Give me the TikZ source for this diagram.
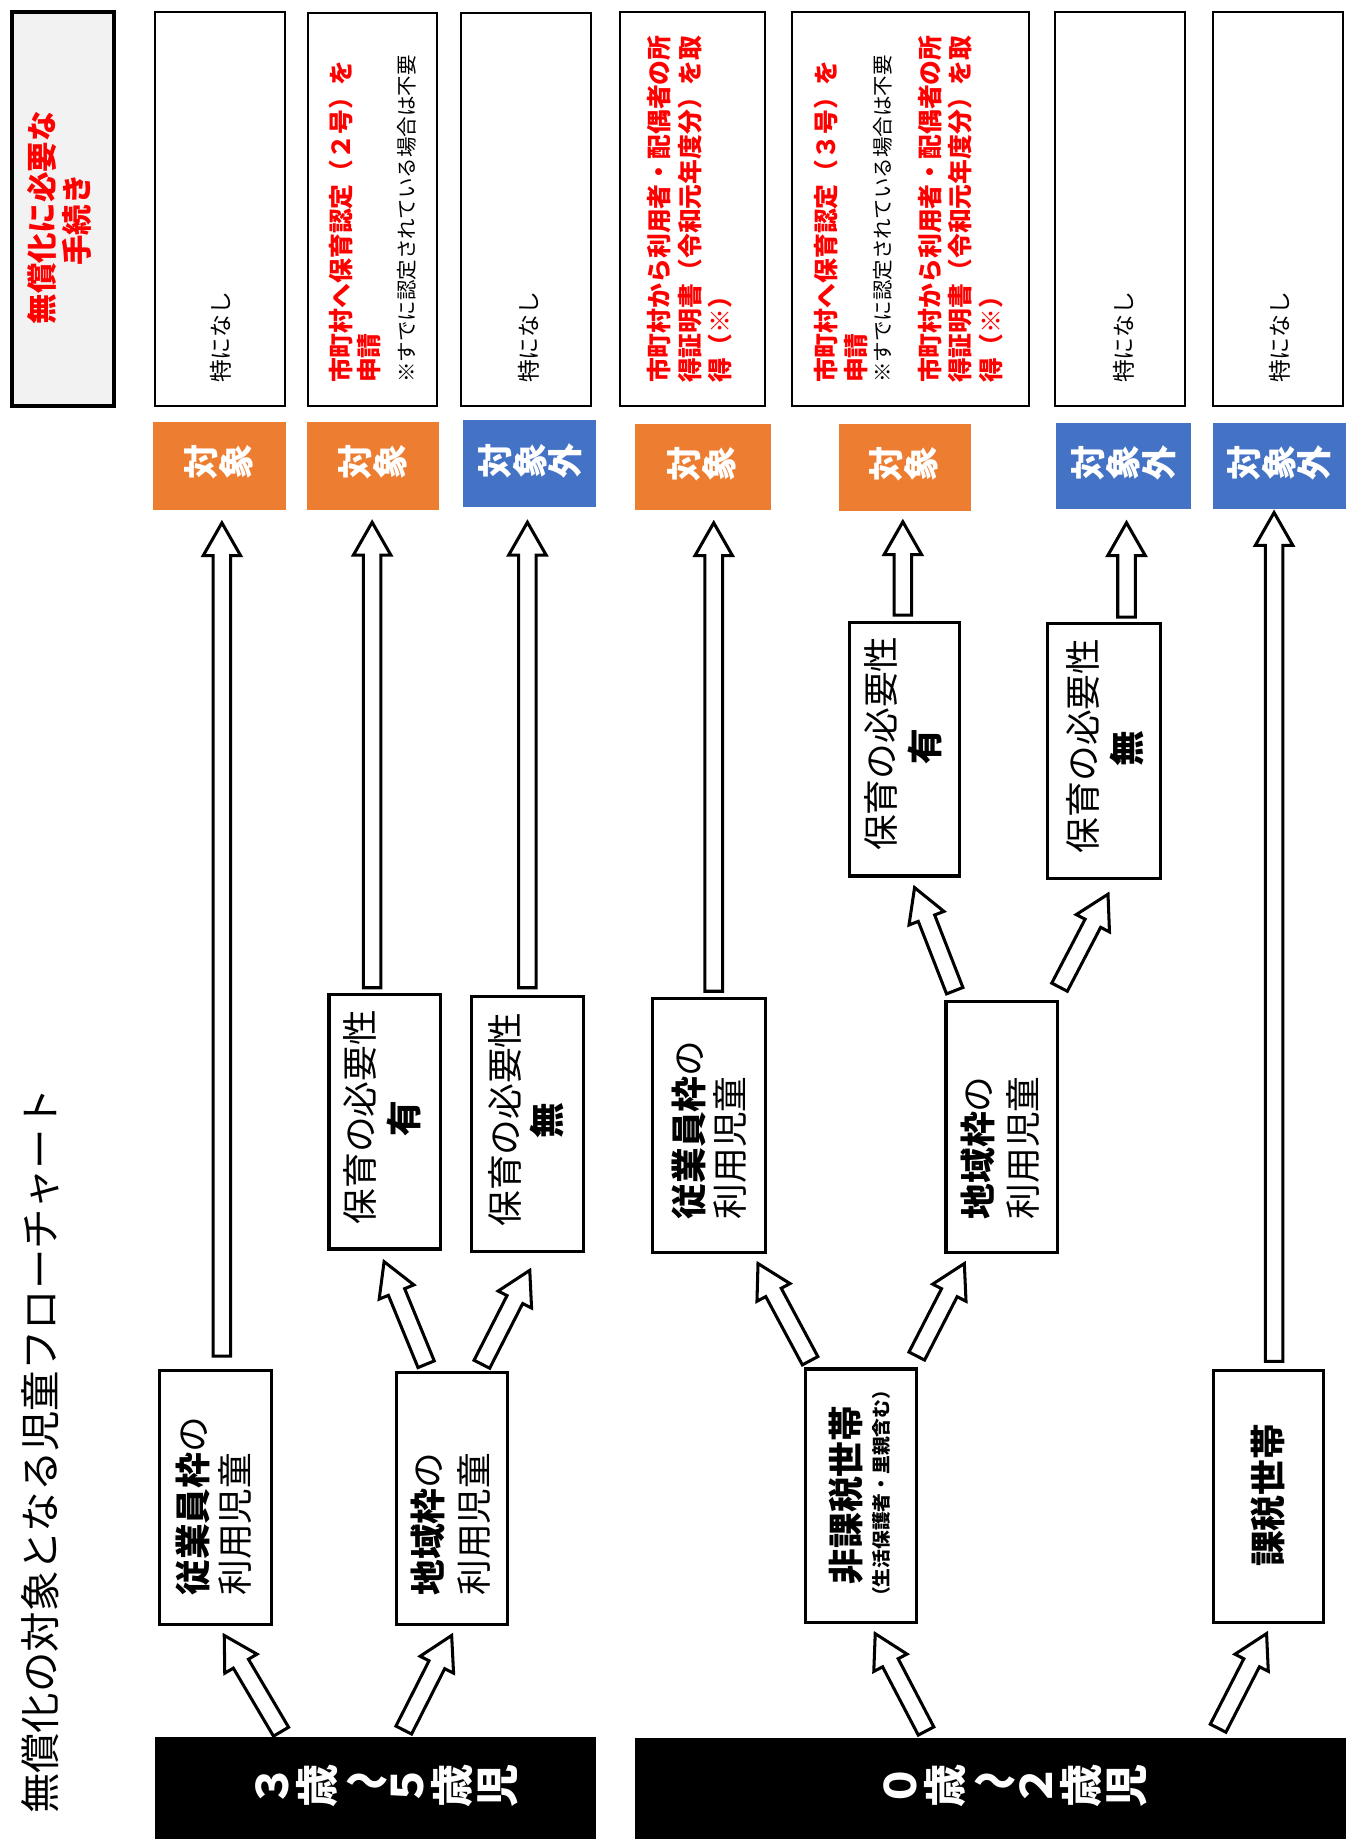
\documentclass[tikz,border=0pt]{standalone}
\usepackage{fontspec}
\usepackage{graphicx}
\usetikzlibrary{calc}
\newfontfamily\jp{Noto Sans CJK JP}
\definecolor{corange}{HTML}{ED7D31}
\definecolor{cblue}{HTML}{4472C4}
\definecolor{cred}{HTML}{FF0000}
\definecolor{cgrey}{HTML}{F2F2F2}
\newcommand\jfs[1]{\fontsize{#1}{#1}\selectfont}
\tikzset{
  vtl/.style={rotate=90, anchor=west, inner sep=0pt, outer sep=0pt},
  vtc/.style={rotate=90, anchor=center, inner sep=0pt, outer sep=0pt},
  stk/.style={rotate=90, anchor=center, inner sep=0pt, outer sep=0pt, align=center},
  topbox/.style={draw, line width=1.8pt, fill=white},
  midbox/.style={draw, line width=2.7pt, fill=white},
  titlebox/.style={draw, line width=3.5pt, fill=cgrey},
  orangebox/.style={fill=corange},
  bluebox/.style={fill=cblue},
  blackbox/.style={fill=black},
  arrowbody/.style={draw, fill=white, line width=2.6pt, line join=miter},
  redtxt/.style={text=cred, font=\jp\bfseries\jfs{21.2}},
  notetxt/.style={font=\jp\jfs{17.5}},
  plaintxt/.style={font=\jp\jfs{19.5}},
  lbltxt/.style={text=white, font=\jp\bfseries\jfs{30}},
  midtxt/.style={font=\jp\jfs{30.5}},
  midbold/.style={font=\jp\bfseries\jfs{30.5}},
  bigtxt/.style={text=white, font=\jp\bfseries\fontsize{37}{38.5}\selectfont},
}
% box node: style, name, x1, y1, x2, y2
\newcommand\boxnode[6]{%
  \node[#1, inner sep=0pt, outer sep=0pt, minimum width={#5-#3}, minimum height={#6-#4}]
    (#2) at ({(#3+#5)/2},{(#4+#6)/2}) {};}
% block arrow from tail coordinate #1 to tip coordinate #2
\newcommand\barrow[2]{%
  \coordinate (#1-n) at ($(#2)!28pt!(#1)$);
  \draw[arrowbody] ($(#1)!7.5pt!90:(#2)$) -- ($(#1-n)!7.5pt!90:(#2)$) -- ($(#1-n)!16pt!90:(#2)$)
    -- (#2) -- ($(#1-n)!16pt!-90:(#2)$) -- ($(#1-n)!7.5pt!-90:(#2)$) -- ($(#1)!7.5pt!-90:(#2)$) -- cycle;}
\begin{document}
\begin{tikzpicture}[x=1pt,y=-1pt]
\useasboundingbox (0,0) rectangle (1150.3,1573);
\fill[white] (0,0) rectangle (1150.3,1573);

% ---------- top row boxes ----------
\boxnode{titlebox}{title}{10}{10}{97}{347}
\boxnode{topbox}{a1}{132.6}{10}{243}{347}
\boxnode{topbox}{a2}{263}{11.4}{373}{347}
\boxnode{topbox}{a3}{394}{11.4}{505}{347}
\boxnode{topbox}{b1}{529.5}{10}{653}{347}
\boxnode{topbox}{b2}{676}{10}{879}{347}
\boxnode{topbox}{b3}{901}{10}{1012}{347}
\boxnode{topbox}{b4}{1036}{10}{1147}{347}

\node[vtc, text=cred, font=\jp\bfseries\jfs{26}] (title1) at (36,186) {無償化に必要な};
\node[vtc, text=cred, font=\jp\bfseries\jfs{26}] (title2) at (65.8,188) {手続き};

\node[vtl, plaintxt] (a1t) at (188.5,327) {特になし};
\node[vtl, redtxt] (a2t1) at (291.5,327) {市町村へ保育認定（２号）を};
\node[vtl, redtxt] (a2t2) at (315.5,327) {申請};
\node[vtl, notetxt] (a2t3) at (347.5,327) {※すでに認定されている場合は不要};
\node[vtl, plaintxt] (a3t) at (451.5,327) {特になし};

\node[vtl, redtxt] (b1t1) at (563,327) {市町村から利用者・配偶者の所};
\node[vtl, redtxt] (b1t2) at (589,327) {得証明書（令和元年度分）を取};
\node[vtl, redtxt] (b1t3) at (614.5,327) {得（※）};

\node[vtl, redtxt] (b2t1) at (705,327) {市町村へ保育認定（３号）を};
\node[vtl, redtxt] (b2t2) at (731,327) {申請};
\node[vtl, notetxt] (b2t3) at (754,327) {※すでに認定されている場合は不要};
\node[vtl, redtxt] (b2t4) at (794,327) {市町村から利用者・配偶者の所};
\node[vtl, redtxt] (b2t5) at (820,327) {得証明書（令和元年度分）を取};
\node[vtl, redtxt] (b2t6) at (846,327) {得（※）};

\node[vtl, plaintxt] (b3t) at (960,327) {特になし};
\node[vtl, plaintxt] (b4t) at (1092.7,327) {特になし};

% ---------- labels ----------
\boxnode{orangebox}{l1}{131}{360}{244}{435.6}
\boxnode{orangebox}{l2}{262}{360}{375}{435.6}
\boxnode{bluebox}{l3}{395}{359}{509}{433}
\boxnode{orangebox}{l4}{542}{362}{658}{435.6}
\boxnode{orangebox}{l5}{716.5}{362}{829}{436}
\boxnode{bluebox}{l6}{902}{361}{1017}{435}
\boxnode{bluebox}{l7}{1036}{361}{1149}{435}

\node[stk, lbltxt] (l1t) at (187,394.5) {対\\象};
\node[stk, lbltxt] (l2t) at (318,394.5) {対\\象};
\node[stk, lbltxt] (l3t) at (453,393.5) {対\\象\\外};
\node[stk, lbltxt] (l4t) at (599,396) {対\\象};
\node[stk, lbltxt] (l5t) at (772,396) {対\\象};
\node[stk, lbltxt] (l6t) at (959.5,395) {対\\象\\外};
\node[stk, lbltxt] (l7t) at (1092.5,395) {対\\象\\外};

% ---------- middle boxes ----------
\boxnode{midbox}{m1}{281}{849.6}{376.4}{1066.6}
\boxnode{midbox}{m2}{402.7}{851}{498}{1068.8}
\boxnode{midbox}{m3}{557}{853}{653.4}{1069.7}
\boxnode{midbox}{m4}{807.8}{855}{902.8}{1069.7}
\boxnode{midbox}{m5}{725.5}{531.6}{819.3}{748}
\boxnode{midbox}{m6}{894.5}{532.5}{990.7}{750}

\node[vtc, midtxt] (m1t1) at (307.5,954) {保育の必要性};
\node[vtc, midbold] (m1t2) at (345,955) {有};
\node[vtc, midtxt] (m2t1) at (431.5,956) {保育の必要性};
\node[vtc, midbold] (m2t2) at (467,957) {無};
\node[vtl, midtxt] (m3t1) at (588,1041.3) {{\bfseries 従業員枠}の};
\node[vtl, midtxt] (m3t2) at (623.5,1041.3) {利用児童};
\node[vtl, midtxt] (m4t1) at (835,1041.3) {{\bfseries 地域枠}の};
\node[vtl, midtxt] (m4t2) at (874,1041.3) {利用児童};
\node[vtc, midtxt] (m5t1) at (752,635) {保育の必要性};
\node[vtc, midbold] (m5t2) at (790,638) {有};
\node[vtc, midtxt] (m6t1) at (924.5,637) {保育の必要性};
\node[vtc, midbold] (m6t2) at (962,639) {無};

% ---------- lower boxes ----------
\boxnode{midbox}{p1}{136.4}{1170.2}{231.6}{1387.6}
\boxnode{midbox}{p2}{338.3}{1171.7}{433.6}{1387.6}
\boxnode{midbox}{p3}{687.8}{1169}{782.9}{1385.4}
\boxnode{midbox}{p4}{1036.3}{1170}{1130}{1385.4}

\node[vtl, midtxt] (p1t1) at (164.8,1362.5) {{\bfseries 従業員枠}の};
\node[vtl, midtxt] (p1t2) at (201,1362.5) {利用児童};
\node[vtl, midtxt] (p2t1) at (365.7,1362.5) {{\bfseries 地域枠}の};
\node[vtl, midtxt] (p2t2) at (404.8,1362.5) {利用児童};
\node[vtc, midbold] (p3t1) at (722.5,1276.6) {非課税世帯};
\node[vtc, font=\jp\bfseries\jfs{16}] (p3t2) at (753,1275.3) {（生活保護者・里親含む）};
\node[vtc, midbold] (p4t) at (1083,1277) {課税世帯};

% ---------- bottom black boxes ----------
\boxnode{blackbox}{k1}{132}{1483.4}{508.6}{1570.6}
\boxnode{blackbox}{k2}{542}{1484.3}{1149}{1570.6}
\node[stk, bigtxt] (k1t) at (330.5,1525) {３\\歳\\\rotatebox[origin=c]{-90}{〜}\\５\\歳\\児};
\node[stk, bigtxt] (k2t) at (867,1525) {０\\歳\\\rotatebox[origin=c]{-90}{〜}\\２\\歳\\児};

% ---------- main title ----------
\node[vtl, font=\jp\jfs{34.5}] (maintitle) at (34.3,1549) {無償化の対象となる児童フローチャート};

% ---------- arrows ----------
\coordinate (v1a) at (189.5,1158); \coordinate (v1b) at (189.5,446.5);
\coordinate (v2a) at (317.8,843.5); \coordinate (v2b) at (317.8,446);
\coordinate (v3a) at (450.4,843.5); \coordinate (v3b) at (450.4,446);
\coordinate (v4a) at (609.5,846.5); \coordinate (v4b) at (609.5,446.5);
\coordinate (v5a) at (771,525.3); \coordinate (v5b) at (771,445.6);
\coordinate (v6a) at (962,527); \coordinate (v6b) at (962,446.4);
\coordinate (v7a) at (1088,1162.5); \coordinate (v7b) at (1088,437.7);
\foreach \i in {1,...,7} {\barrow{v\i a}{v\i b}}

\coordinate (d1a) at (240,1478.8); \coordinate (d1b) at (191.5,1396.6);
\coordinate (d2a) at (344.8,1477.4); \coordinate (d2b) at (385.7,1396.6);
\coordinate (d3a) at (363.9,1165); \coordinate (d3b) at (328,1077.4);
\coordinate (d4a) at (411.5,1165); \coordinate (d4b) at (452.4,1084.8);
\coordinate (d5a) at (790.8,1478.2); \coordinate (d5b) at (747.4,1395.1);
\coordinate (d6a) at (1040.2,1475.8); \coordinate (d6b) at (1081.6,1395);
\coordinate (d7a) at (691.8,1162); \coordinate (d7b) at (647.3,1079);
\coordinate (d8a) at (782.9,1158); \coordinate (d8b) at (823.5,1079);
\coordinate (d9a) at (815.3,846); \coordinate (d9b) at (781,758);
\coordinate (d10a) at (904.8,843); \coordinate (d10b) at (946.2,763.6);
\foreach \i in {1,...,10} {\barrow{d\i a}{d\i b}}
\end{tikzpicture}
\end{document}
